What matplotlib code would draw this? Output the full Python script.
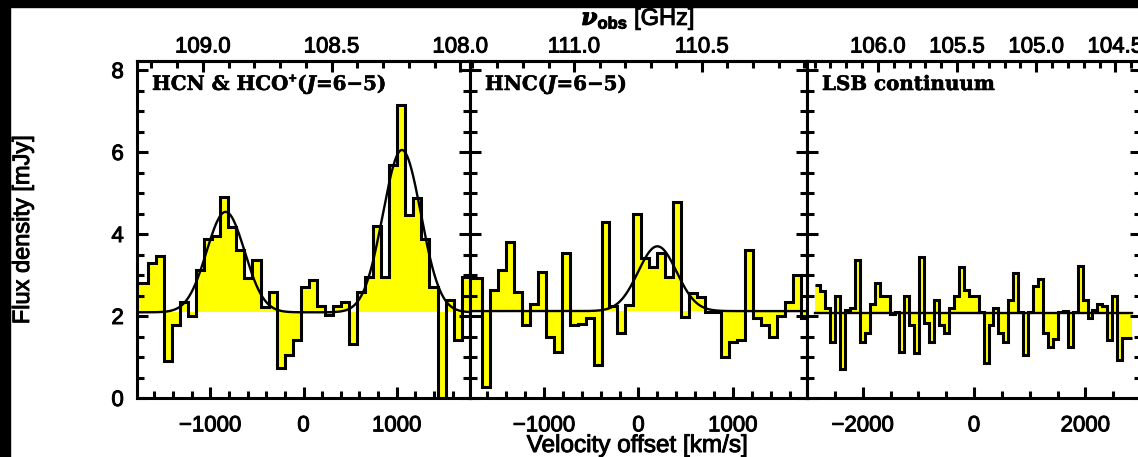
import numpy as np
import matplotlib.pyplot as plt
import matplotlib.patheffects as pe
from matplotlib.patches import Rectangle
from matplotlib.ticker import MultipleLocator, FormatStrFormatter

plt.rcParams['font.family'] = ['Liberation Sans', 'DejaVu Sans']
plt.rcParams['mathtext.fontset'] = 'custom'
plt.rcParams['mathtext.rm'] = 'Liberation Sans'
plt.rcParams['mathtext.it'] = 'DejaVu Serif:italic:bold'
plt.rcParams['mathtext.bf'] = 'Liberation Sans:bold'

C_KMS = 299792.458
CHAN_GHZ = 0.03125          # channel width
YMAX = 8.22

# --- HCN & HCO+ (J=6-5) -------------------------------------------------------
hcn_f0 = 108.609            # observed frequency at v = 0 [GHz]
hcn_vstart = -1841.0        # first channel edge [km/s]
hcn_flux = [2.80, 2.80, 3.30, 3.47, 0.90, 1.78, 2.35, 2.00, 3.12, 3.88,
            3.95, 4.90, 4.17, 3.60, 2.93, 3.37, 2.23, 2.59, 0.73, 1.05,
            1.42, 2.71, 2.88, 2.25, 2.02, 2.25, 2.33, 1.32, 2.59, 2.96,
            4.20, 2.96, 5.68, 7.15, 4.46, 4.88, 3.88, 2.71, 0.00, 2.39,
            1.41, 2.96, 2.96]
hcn_cont = 2.09
hcn_cen = [-835.0, 1055.0]
hcn_amp = [2.45, 3.96]
hcn_fwhm = 480.0

# --- HNC (J=6-5) --------------------------------------------------------------
hnc_f0 = 110.748
hnc_vstart = -1830.0
hnc_flux = [2.93, 2.93, 0.28, 2.63, 3.12, 3.81, 2.59, 1.78, 2.30, 3.08,
            1.50, 1.13, 3.53, 1.78, 1.80, 1.95, 0.80, 4.30, 2.25, 1.58,
            2.27, 4.50, 3.41, 3.20, 3.53, 2.96, 4.79, 1.98, 2.56, 2.47,
            2.10, 2.10, 1.00, 1.37, 1.41, 3.61, 1.95, 1.78, 1.50, 2.00,
            2.35, 3.00, 1.95]
hnc_cont = 2.12
hnc_cen = [200.0]
hnc_amp = [1.58]
hnc_fwhm = 480.0

# --- LSB continuum ------------------------------------------------------------
lsb_f0 = 105.393
lsb_vstart = -2850.0
lsb_flux = [2.76, 2.60, 2.20, 1.37, 2.50, 0.70, 2.15, 2.20, 3.37, 1.37,
            1.58, 2.30, 2.80, 2.50, 2.50, 2.05, 2.10, 1.13, 2.50, 1.78,
            1.09, 3.43, 1.83, 1.37, 2.40, 1.78, 1.58, 2.20, 2.50, 3.20,
            2.63, 2.50, 2.50, 2.10, 0.85, 1.78, 2.20, 1.58, 1.37, 2.40,
            3.06, 2.10, 1.05, 2.10, 2.74, 2.90, 1.58, 1.25, 1.45, 2.10,
            2.12, 1.25, 2.10, 3.22, 2.39, 1.95, 2.15, 2.30, 2.25, 1.41,
            2.50, 0.93, 1.46, 1.46]
lsb_cont = 2.07

panels = [
    dict(title='HCN & HCO$^{\\mathbf{+}}$($J$=6\u22125)', f0=hcn_f0, vstart=hcn_vstart,
         flux=hcn_flux, cont=hcn_cont, cen=hcn_cen, amp=hcn_amp, fwhm=hcn_fwhm,
         vlim=1785, major=1000, minor=200, rect=(137, 470)),
    dict(title='HNC($J$=6\u22125)', f0=hnc_f0, vstart=hnc_vstart,
         flux=hnc_flux, cont=hnc_cont, cen=hnc_cen, amp=hnc_amp, fwhm=hnc_fwhm,
         vlim=1785, major=1000, minor=200, rect=(470, 807)),
    dict(title='LSB continuum', f0=lsb_f0, vstart=lsb_vstart,
         flux=lsb_flux, cont=lsb_cont, cen=[], amp=[], fwhm=None,
         vlim=3000, major=2000, minor=500, rect=(807, 1141)),
]

W, H = 1138, 457
fig = plt.figure(figsize=(W / 100, H / 100), dpi=100)
fig.patch.set_facecolor('white')

LW = 2.2
TICK_FS = 16
heavy = [pe.withStroke(linewidth=0.7, foreground='black')]
y_top, y_bot = 61, 398
axes_all = []

for i, p in enumerate(panels):
    x0, x1 = p['rect']
    ax = fig.add_axes([x0 / W, 1 - y_bot / H, (x1 - x0) / W, (y_bot - y_top) / H])
    f0 = p['f0']
    dv = C_KMS * CHAN_GHZ / f0
    flux = np.asarray(p['flux'])
    edges = p['vstart'] + dv * np.arange(len(flux) + 1)

    ax.stairs(flux, edges, baseline=p['cont'], fill=True, color='#ffff00',
              lw=0, zorder=1)
    ax.stairs(flux, edges, baseline=None, color='black', lw=LW, zorder=2)

    if p['cen']:
        v = np.linspace(-p['vlim'], p['vlim'], 800)
        sig = p['fwhm'] / (2 * np.sqrt(2 * np.log(2)))
        model = p['cont'] + sum(a * np.exp(-0.5 * ((v - c) / sig) ** 2)
                                for a, c in zip(p['amp'], p['cen']))
        ax.plot(v, model, color='black', lw=1.7, zorder=3)
    else:
        ax.plot([edges[0], edges[-1]], [p['cont'], p['cont']],
                color='black', lw=1.7, zorder=3)

    ax.set_xlim(-p['vlim'], p['vlim'])
    ax.set_ylim(0, YMAX)
    ax.xaxis.set_major_locator(MultipleLocator(p['major']))
    ax.xaxis.set_minor_locator(MultipleLocator(p['minor']))
    ax.yaxis.set_major_locator(MultipleLocator(2))
    ax.yaxis.set_minor_locator(MultipleLocator(0.5))
    ax.tick_params(which='both', direction='in', top=False, right=True,
                   width=LW, labelsize=TICK_FS)
    ax.tick_params(which='major', length=8)
    ax.tick_params(which='minor', length=4.8)
    ax.tick_params(axis='x', pad=12.5)
    ax.tick_params(axis='y', pad=9.5)
    if i > 0:
        ax.tick_params(labelleft=False)
    for s in ax.spines.values():
        s.set_linewidth(LW)

    sec = ax.secondary_xaxis(
        'top',
        functions=(lambda vel, f0=f0: f0 * (1 - vel / C_KMS),
                   lambda f, f0=f0: C_KMS * (1 - f / f0)))
    sec.xaxis.set_major_locator(MultipleLocator(0.5))
    sec.xaxis.set_minor_locator(MultipleLocator(0.1))
    sec.xaxis.set_major_formatter(FormatStrFormatter('%.1f'))
    sec.tick_params(which='both', direction='in', width=LW,
                    labelsize=TICK_FS, pad=2.5)
    sec.tick_params(which='major', length=8)
    sec.tick_params(which='minor', length=4.8)
    sec.spines['top'].set_linewidth(LW)

    t = ax.text(15 / (x1 - x0), 1 - 23 / (y_bot - y_top), p['title'],
                transform=ax.transAxes, ha='left', va='center',
                fontfamily='DejaVu Serif', fontweight='bold', fontsize=14.3,
                zorder=5)
    t.set_path_effects([pe.withStroke(linewidth=0.4, foreground='black')])
    axes_all += [ax, sec]

for txt, xy, kw in [
        ('Flux density [mJy]', (23, 229.5), dict(rotation=90, fontsize=17)),
        ('Velocity offset [km/s]', (637, 446), dict(fontsize=17.5)),
        ('$\\nu_{\\mathbf{obs}}$ [GHz]', (638, 19), dict(fontsize=17))]:
    fig.text(xy[0] / W, 1 - xy[1] / H, txt, ha='center', va='center',
             path_effects=heavy, **kw)

# dark strips along the top and left edges
fig.add_artist(Rectangle((0, 1 - 7 / H), 1, 7 / H, transform=fig.transFigure,
                         color='black', zorder=10))
fig.add_artist(Rectangle((0, 0), 10 / W, 1, transform=fig.transFigure,
                         color='black', zorder=10))

# thicker tick-label strokes
fig.canvas.draw()
for a in axes_all:
    for lbl in a.get_xticklabels() + a.get_yticklabels():
        lbl.set_path_effects(heavy)

fig.savefig('out.png', dpi=100)
